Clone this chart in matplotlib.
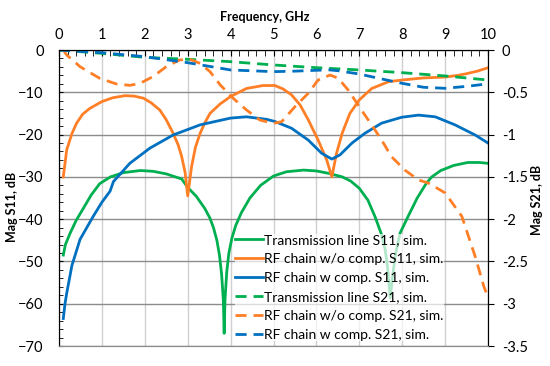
import numpy as np
import matplotlib
matplotlib.use("Agg")
import matplotlib.pyplot as plt
from matplotlib.ticker import MultipleLocator

plt.rcParams['font.family'] = ['Lato', 'DejaVu Sans']

## --- Data ---
# Transmission line S11 [dB]
f_tl = [0.1, 0.15, 0.26, 0.4, 0.57, 0.75, 0.95, 1.2, 1.5, 1.9, 2.2, 2.5, 2.86, 3.0, 3.2,
        3.4, 3.52, 3.6, 3.68, 3.74, 3.79, 3.83, 3.85, 3.87, 3.91, 3.96, 4.03, 4.12, 4.25,
        4.45, 4.7, 5.0, 5.3, 5.7, 6.0, 6.3, 6.6, 6.8, 7.0, 7.2, 7.37, 7.52, 7.6, 7.66,
        7.72, 7.77, 7.84, 7.95, 8.14, 8.35, 8.57, 8.69, 8.9, 9.2, 9.53, 9.8, 10.0]
s11_tl = [-48.5, -46.0, -43.3, -40.3, -37.4, -34.3, -31.6, -30.0, -29.0, -28.5, -28.7, -29.3,
          -30.5, -32.5, -34.6, -37.5, -39.8, -42.0, -45.0, -48.5, -53.0, -59.0, -67.0, -59.0,
          -52.5, -48.0, -44.5, -41.5, -38.5, -35.0, -32.0, -29.8, -28.8, -28.4, -28.6, -29.2,
          -30.0, -31.0, -32.7, -35.5, -39.5, -43.7, -47.0, -51.5, -58.6, -54.0, -48.5, -43.3,
          -39.3, -35.0, -31.4, -30.0, -28.5, -27.3, -26.6, -26.6, -26.8]

# RF chain w/o comp. S11 [dB]
f_nc = [0.1, 0.18, 0.3, 0.41, 0.55, 0.72, 1.0, 1.25, 1.54, 1.75, 1.97, 2.15, 2.35, 2.5, 2.66,
        2.78, 2.86, 2.94, 3.0, 3.04, 3.09, 3.18, 3.29, 3.4, 3.52, 3.75, 4.0, 4.37, 4.76,
        5.03, 5.22, 5.42, 5.62, 5.81, 6.04, 6.24, 6.36, 6.47, 6.6, 6.78, 7.0, 7.29, 7.68,
        8.0, 8.5, 9.0, 9.3, 9.5, 9.75, 10.0]
s11_nc = [-30.0, -23.6, -19.8, -17.3, -15.2, -13.8, -12.2, -11.3, -10.8, -10.9, -11.4, -12.5,
          -14.2, -16.5, -19.7, -22.5, -25.2, -29.0, -34.5, -31.5, -27.6, -23.0, -19.7, -17.2,
          -15.0, -12.8, -11.0, -9.1, -8.4, -8.4, -9.2, -10.6, -13.0, -16.5, -21.3, -26.0,
          -30.0, -24.4, -19.7, -15.0, -11.8, -9.1, -7.5, -7.1, -6.6, -6.4, -6.0, -5.6, -5.0,
          -4.2]

# RF chain w comp. S11 [dB]
f_wc = [0.1, 0.14, 0.18, 0.3, 0.49, 0.8, 1.0, 1.19, 1.27, 1.65, 2.12, 2.66, 3.29, 4.0, 4.37,
        4.84, 5.03, 5.42, 5.81, 6.12, 6.36, 6.55, 6.83, 7.13, 7.52, 7.99, 8.38, 8.77, 9.23,
        9.7, 10.0]
s11_wc = [-63.5, -60.0, -57.5, -51.0, -44.8, -39.3, -36.0, -33.4, -31.1, -26.8, -23.2, -20.1,
          -17.7, -16.1, -15.8, -16.4, -16.9, -18.5, -21.3, -24.4, -25.8, -24.8, -22.0, -19.7,
          -17.3, -15.9, -15.4, -15.8, -17.7, -20.1, -22.0]

# Transmission line S21 [dB]
f_tl21 = [0, 1, 2, 3, 4, 5, 6, 7, 8, 9, 10]
s21_tl = [0.0, -0.04, -0.087, -0.11, -0.138, -0.177, -0.209, -0.236, -0.268, -0.307, -0.355]

# RF chain w/o comp. S21 [dB]
f_nc21 = [0.1, 0.18, 0.49, 0.95, 1.34, 1.65, 1.89, 2.19, 2.5, 2.81, 3.05, 3.29, 3.52, 3.76,
          4.06, 4.37, 4.68, 5.0, 5.19, 5.5, 5.81, 6.04, 6.32, 6.51, 6.74, 7.05, 7.29, 7.52,
          7.75, 8.06, 8.38, 8.61, 9.0, 9.39, 9.7, 9.9, 10.0]
s21_nc = [0.0, -0.059, -0.197, -0.335, -0.402, -0.418, -0.394, -0.315, -0.197, -0.118, -0.11,
          -0.158, -0.256, -0.414, -0.571, -0.709, -0.828, -0.867, -0.848, -0.67, -0.512,
          -0.355, -0.296, -0.335, -0.473, -0.709, -0.887, -1.064, -1.261, -1.419, -1.537,
          -1.573, -1.69, -1.967, -2.44, -2.79, -2.93]

# RF chain w comp. S21 [dB]
f_wc21 = [0, 1, 2, 3, 4, 5, 5.5, 6, 6.3, 6.5, 7, 7.5, 8, 8.5, 9, 9.5, 10]
s21_wc = [0.0, -0.032, -0.079, -0.15, -0.236, -0.256, -0.25, -0.24, -0.235, -0.245, -0.284,
          -0.34, -0.394, -0.441, -0.453, -0.43, -0.4]

s21_ticks = [-3.5, -3, -2.5, -2, -1.5, -1, -0.5, 0]
s21_labels = ["-3.5", "-3", "-2.5", "-2", "-1.5", "-1", "-0.5", "0"]

green = "#00b050"
orange = "#ff7f27"
blue = "#0070c0"

## --- Plot ---
fig = plt.figure(figsize=(5.5, 3.66), dpi=100)
ax = fig.add_axes([59 / 550, 20 / 366, 429 / 550, 296 / 366])
ax2 = ax.twinx()

lw = 2.0
dash = (0, (4, 2.5))
l1, = ax.plot(f_tl, s11_tl, color=green, lw=lw, label="Transmission line S11, sim.")
l2, = ax.plot(f_nc, s11_nc, color=orange, lw=lw, label="RF chain w/o comp. S11, sim.")
l3, = ax.plot(f_wc, s11_wc, color=blue, lw=lw, label="RF chain w comp. S11, sim.")
l4, = ax2.plot(f_tl21, s21_tl, color=green, lw=lw, ls=dash, label="Transmission line S21, sim.")
l5, = ax2.plot(f_nc21, s21_nc, color=orange, lw=lw, ls=dash, label="RF chain w/o comp. S21, sim.")
l6, = ax2.plot(f_wc21, s21_wc, color=blue, lw=lw, ls=dash, label="RF chain w comp. S21, sim.")

ax.set_xlim(0, 10)
ax.set_ylim(-70, 0)
ax2.set_ylim(-3.5, 0)

# x axis on top
ax.xaxis.tick_top()
ax.xaxis.set_label_position('top')
ax.xaxis.set_major_locator(MultipleLocator(1))
ax.xaxis.set_minor_locator(MultipleLocator(0.2))
ax.yaxis.set_major_locator(MultipleLocator(10))
ax.yaxis.set_minor_locator(MultipleLocator(2))
ax2.set_yticks(s21_ticks)
ax2.set_yticklabels(s21_labels)

ax.tick_params(axis='x', which='both', direction='in', top=True, bottom=False,
               labelsize=10.5, pad=6, length=4)
ax.tick_params(axis='y', which='both', direction='in', labelsize=10.5, pad=11, length=3)
ax2.tick_params(axis='y', direction='out', labelsize=10.5, pad=6, length=4)

ax.grid(axis='x', color='#d0d0d0', lw=1.0)
ax.grid(axis='y', color='#8c8c8c', lw=1.0)
ax.set_axisbelow(True)
ax.spines['bottom'].set_color('#8c8c8c')
ax2.spines['bottom'].set_color('#8c8c8c')

ax.set_xlabel("Frequency, GHz", fontsize=9, fontweight='bold')
ax.xaxis.set_label_coords(0.48, 1.098)
ax.set_ylabel("Mag S11, dB", fontsize=9, fontweight='bold')
ax.yaxis.set_label_coords(-0.095, 0.471)
ax2.set_ylabel("Mag S21, dB", fontsize=9, fontweight='bold')
ax2.yaxis.set_label_coords(1.1, 0.495)

leg = ax2.legend(handles=[l1, l2, l3, l4, l5, l6], loc='upper left',
                 bbox_to_anchor=(235 / 550, 1 - 234 / 366), bbox_transform=fig.transFigure,
                 fontsize=10, frameon=True, framealpha=0.7, edgecolor='none',
                 borderpad=0.0, labelspacing=0.5, handlelength=2.0, handletextpad=0.1,
                 borderaxespad=0)
leg.get_frame().set_boxstyle('square', pad=0)

fig.savefig("out.png", dpi=100)
